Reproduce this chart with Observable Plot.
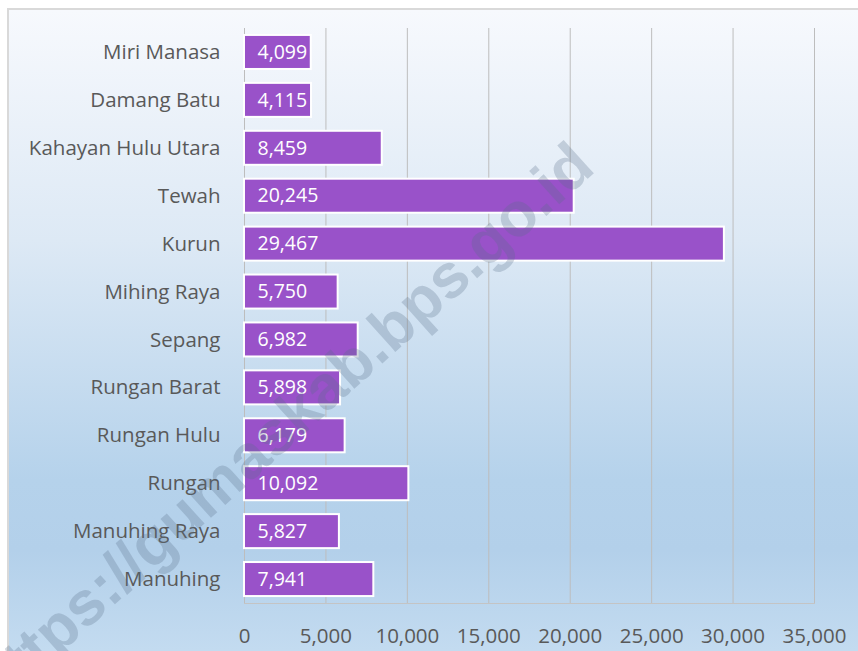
<!DOCTYPE html>
<html>
<head>
<meta charset="utf-8">
<script src="https://cdn.jsdelivr.net/npm/d3@7"></script>
<script src="https://cdn.jsdelivr.net/npm/@observablehq/plot@0.6"></script>
<style>
  html, body { margin: 0; padding: 0; background: #ffffff; }
  #wrap { position: relative; width: 858px; height: 651px; overflow: hidden; }
  #frame {
    position: absolute; left: 7px; top: 8px; width: 900px; height: 700px;
    border: 2px solid #d9d9d9; box-sizing: border-box;
    background: linear-gradient(to bottom, #f7f9fd 0px, #dde9f5 230px, #b5d2eb 470px, #b3d0ea 540px, #c3dbf0 640px);
  }
  #chart { position: absolute; left: 0; top: 0; }
  #wmpos { position: absolute; left: 283px; top: 424px; width: 0; height: 0; }
  #wm {
    position: absolute; left: 0; top: 0;
    font: bold 62px "Liberation Sans", Arial, sans-serif;
    color: rgba(90, 110, 135, 0.27);
    transform: translate(-50%, -50%) rotate(-42deg);
    white-space: nowrap; pointer-events: none;
  }
</style>
</head>
<body>
<div id="wrap">
  <div id="frame"></div>
  <div id="chart"></div>
  <div id="wmpos"><div id="wm">https://gumaskab.bps.go.id</div></div>
</div>
<script>
const categories = ["Miri Manasa", "Damang Batu", "Kahayan Hulu Utara", "Tewah", "Kurun", "Mihing Raya", "Sepang", "Rungan Barat", "Rungan Hulu", "Rungan", "Manuhing Raya", "Manuhing"];
const values = [4099, 4115, 8459, 20245, 29467, 5750, 6982, 5898, 6179, 10092, 5827, 7941];
const xTicks = [0, 5000, 10000, 15000, 20000, 25000, 30000, 35000];

const data = categories.map((c, i) => ({category: c, value: values[i]}));
const fmt = d3.format(",");
const font = "'Open Sans', sans-serif";

const chart = Plot.plot({
  width: 858,
  height: 651,
  marginLeft: 244,
  marginRight: 44,
  marginTop: 28,
  marginBottom: 48,
  style: {background: "transparent", fontFamily: font, fontSize: "20px", color: "#595959"},
  x: {domain: [0, 35000], ticks: xTicks, tickFormat: fmt, label: null},
  y: {domain: categories, paddingInner: 0.29, paddingOuter: 0.145, round: false, label: null},
  marks: [
    Plot.gridX(xTicks, {stroke: "#bdbdbd", strokeOpacity: 1, strokeWidth: 1}),
    Plot.frame({anchor: "bottom", stroke: "#c4c4c4"}),
    Plot.barX(data, {x: "value", y: "category", fill: "#9952c9", stroke: "#ffffff", strokeWidth: 2}),
    Plot.text(data, {x: 0, y: "category", text: d => fmt(d.value), dx: 13, textAnchor: "start", fill: "#ffffff", fontSize: 19.5}),
    Plot.axisX({ticks: xTicks, tickFormat: fmt, tickSize: 0, tickPadding: 25, fontSize: 20.5, fill: "#595959", label: null}),
    Plot.axisY({tickSize: 0, tickPadding: 24, fontSize: 20.5, fill: "#595959", label: null})
  ]
});
document.getElementById("chart").appendChild(chart);
</script>
</body>
</html>
